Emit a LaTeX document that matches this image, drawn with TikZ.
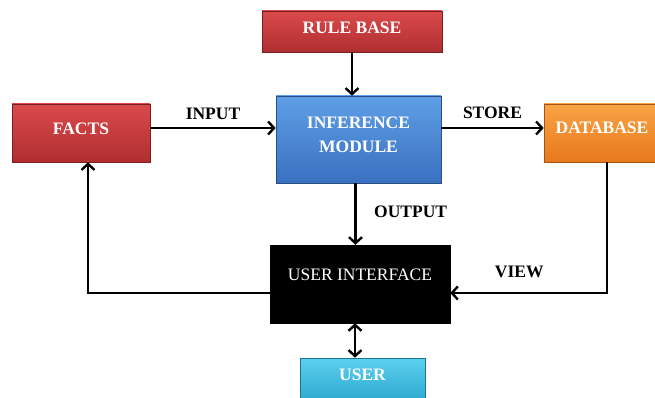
\documentclass[tikz,border=0pt]{standalone}
\usepackage{fontspec}
\setmainfont{Liberation Serif}
\usetikzlibrary{arrows.meta}

\definecolor{redtop}{HTML}{DA4A4C}
\definecolor{redbot}{HTML}{B02E30}
\definecolor{bluetop}{HTML}{5F9FE6}
\definecolor{bluebot}{HTML}{3A70C0}
\definecolor{orangetop}{HTML}{F8A445}
\definecolor{orangebot}{HTML}{E8781C}
\definecolor{cyantop}{HTML}{5CD0F0}
\definecolor{cyanbot}{HTML}{2AA6CC}

\begin{document}
\begin{tikzpicture}[x = 1pt, y = 1pt,
	> = {Straight Barb[length = 6pt, width = 13pt, line width = 2.4pt]},
	font = \fontsize{17.5}{20}\selectfont\bfseries,
	block/.style = {draw = #1bot!70!black, line width = 0.6pt,
		top color = #1top, bottom color = #1bot,
		text = white, align = center, inner sep = 0pt, text depth = 8pt},
	flow/.style = {line width = 2.6pt, ->},
	label/.style = {text = black}]

	% Frame

	\useasboundingbox (0, 0) rectangle (655, -398);

	% Blocks

	\node [block = red, minimum width = 180, minimum height = 41] (rule) at (352, -31.5) {RULE BASE};
	\node [block = blue, minimum width = 165, minimum height = 87, text depth = 10pt] (infer) at (358.5, -139.5) {INFERENCE\\[4pt]MODULE};
	\node [block = red, minimum width = 138, minimum height = 58] (facts) at (81, -133) {FACTS};
	\node [block = orange, minimum width = 116, minimum height = 58, text depth = 10pt] (db) at (602, -133) {DATABASE};
	\node [draw = black, fill = black, text = white, font = \fontsize{17.5}{20}\selectfont,
		minimum width = 180, minimum height = 78, inner sep = 0pt, text depth = 18pt] (ui) at (360, -284) {USER INTERFACE};
	\node [block = cyan, minimum width = 125, minimum height = 46, text depth = 12pt] (user) at (362.5, -381) {USER};

	% Connectors

	\draw [flow] (rule.south) -- (rule.south |- infer.north);
	\draw [flow] ([yshift = 5pt] facts.east) -- node [label, above = 4pt] {INPUT} ([yshift = 5pt] facts.east -| infer.west);
	\draw [flow] ([yshift = 5pt] db.west -| infer.east) -- node [label, above = 5pt] {STORE} ([yshift = 5pt] db.west);
	\draw [flow] ([xshift = -3pt] infer.south) -- node [label, right = 14pt, yshift = 2pt] {OUTPUT} ([xshift = -3pt] infer.south |- ui.north);
	\draw [flow] ([yshift = -9pt] ui.west) -| ([xshift = 7pt] facts.south);
	\draw [flow] ([xshift = 5pt] db.south) |- node [label, pos = 0.78, above = 11pt] {VIEW} ([yshift = -9pt] ui.east);
	\draw [flow, <->] ([xshift = -5pt] ui.south) -- ([xshift = -5pt] ui.south |- user.north);

\end{tikzpicture}
\end{document}
